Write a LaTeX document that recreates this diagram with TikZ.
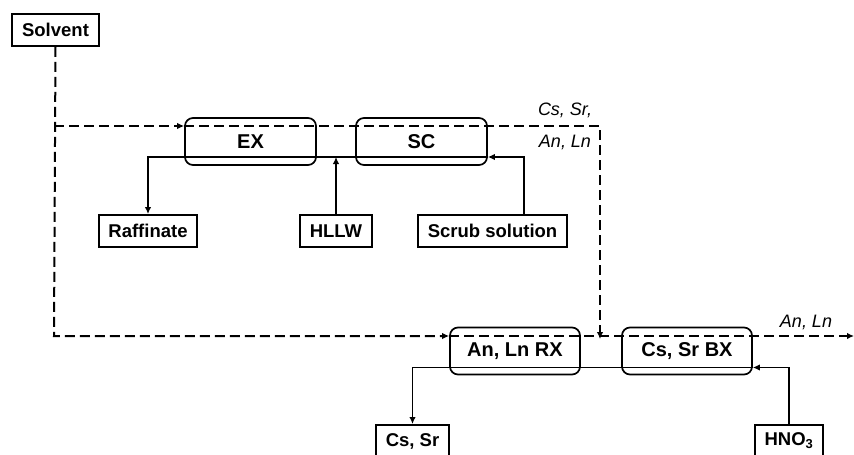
\documentclass[tikz,border=0pt]{standalone}
\usepackage{fontspec}
\setmainfont{Liberation Sans}
\usetikzlibrary{arrows.meta}
\begin{document}
\begin{tikzpicture}[x=1pt,y=-1pt,
  box/.style={draw,line width=1.9pt,inner sep=0pt,font=\fontsize{18.5}{20}\selectfont\bfseries},
  proc/.style={draw,line width=1.7pt,rounded corners=8pt,inner sep=0pt,minimum width=131pt,minimum height=47pt},
  ptxt/.style={font=\fontsize{20}{22}\selectfont\bfseries,inner sep=0pt},
  btxt/.style={font=\fontsize{18.5}{20}\selectfont\bfseries,inner sep=0pt},
  dsh/.style={line width=2pt,dash pattern=on 10pt off 5pt},
  sol/.style={line width=1.5pt},
  tip/.style={-{Latex[length=7pt,width=6.5pt]}},
  lbl/.style={font=\fontsize{18}{20}\selectfont\itshape,inner sep=0pt}]
\useasboundingbox (0,0) rectangle (854,455);
\clip (0,0) rectangle (854,455);
% nodes
\node[box,minimum width=87pt,minimum height=32pt] (solv) at (55.5,30) {Solvent};
\node[proc] (ex) at (250.5,141.5) {};
\node[ptxt] at (250.5,141.5) {EX};
\node[proc] (sc) at (421.5,141.5) {};
\node[ptxt] at (421.5,141.5) {SC};
\node[box,minimum width=98pt,minimum height=32pt] (raf) at (148,231) {Raffinate};
\node[box,minimum width=72pt,minimum height=32pt] (hllw) at (336,231) {HLLW};
\node[box,minimum width=149pt,minimum height=32pt] (scrub) at (492.5,231) {Scrub solution};
\node[proc,minimum width=130pt] (rx) at (515,351) {};
\node[ptxt] at (515,351) {An, Ln RX};
\node[proc,minimum width=130pt] (bx) at (687,351) {};
\node[ptxt] at (687,351) {Cs, Sr BX};
\node[box,minimum width=73pt,minimum height=36pt,anchor=north] (cssr) at (412.5,424) {};
\node[btxt] at (412.5,441) {Cs, Sr};
\node[box,minimum width=68pt,minimum height=36pt,anchor=north] (hno) at (789,424) {};
\node[btxt] at (789,441) {HNO$_\mathbf{3}$};
% labels
\node[lbl] (l1) at (565,110) {Cs, Sr,};
\node[lbl] (l2) at (565,142) {An, Ln};
\node[lbl] (l3) at (806,322) {An, Ln};
% coordinates
\coordinate (j1) at (54,126);
\coordinate (bl) at (54,336);
\coordinate (tr) at (600,126);
\coordinate (outr) at (854,336);
\coordinate (ys) at (0,157);
\coordinate (yb) at (0,367.5);
\coordinate (scrubin) at (524,0);
% dashed organic flows
\draw[dsh,tip] (solv.south) -- (bl) -- (rx.west |- bl);
\draw[dsh,tip] (j1) -- (ex.west |- j1);
\draw[dsh,tip] (ex.west |- j1) -- (tr) -- ([yshift=-3pt]tr |- bl);
\draw[dsh,tip] (rx.west |- bl) -- (outr);
% solid aqueous flows
\draw[sol,tip] (sc.east |- ys) -- (raf.north |- ys) -- (raf.north);
\draw[sol,tip] (scrubin |- scrub.north) -- (scrubin |- ys) -- (sc.east |- ys);
\draw[sol,tip] (hllw.north) -- (hllw.north |- ys);
\draw[sol,tip] (bx.east |- yb) -- (cssr.north |- yb) -- (cssr.north);
\draw[sol,tip] (hno.north) |- (bx.east |- yb);
\end{tikzpicture}
\end{document}
